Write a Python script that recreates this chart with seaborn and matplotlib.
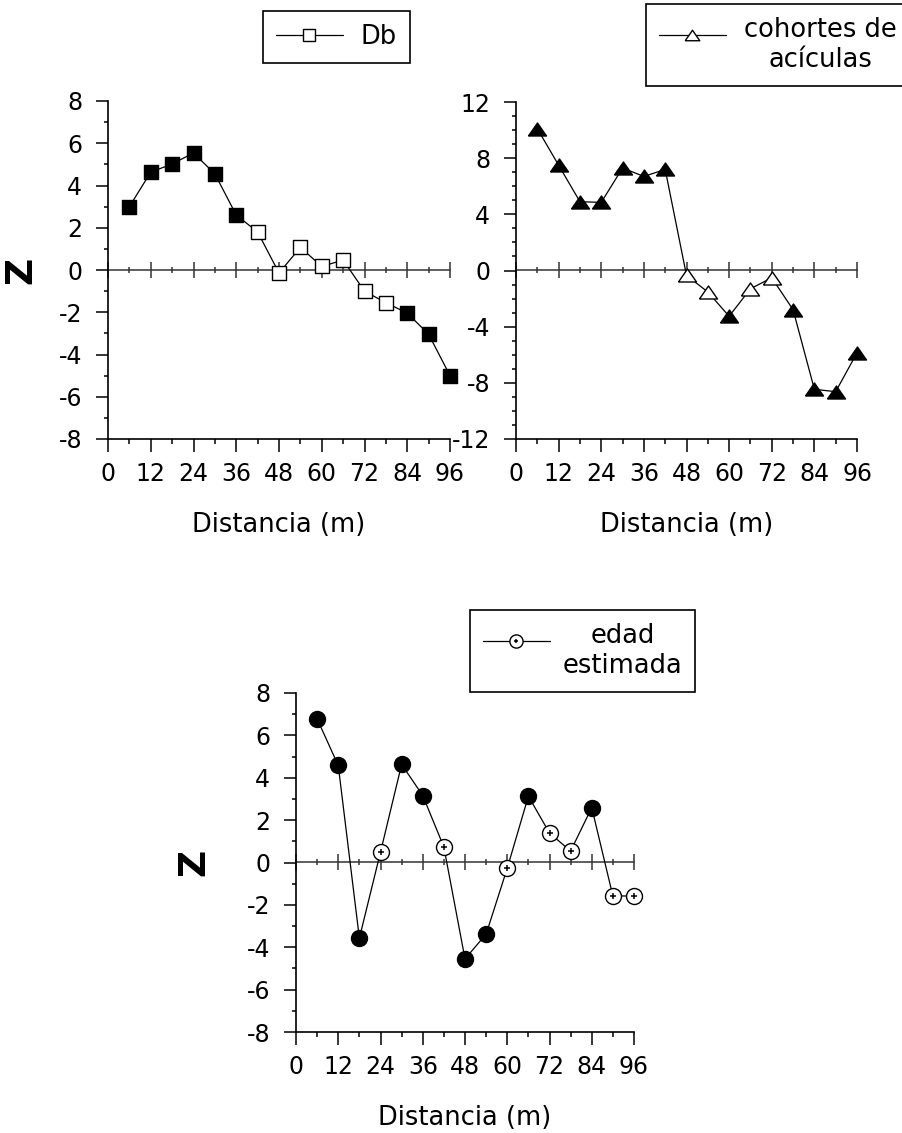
import numpy as np
import pandas as pd
import matplotlib
matplotlib.use("Agg")
import matplotlib.pyplot as plt
from matplotlib.lines import Line2D
from matplotlib.legend_handler import HandlerLine2D
from matplotlib.ticker import MultipleLocator
import seaborn as sns

# Distance classes (m) and standardized Z values per variable
distancia = [6, 12, 18, 24, 30, 36, 42, 48, 54, 60, 66, 72, 78, 84, 90, 96]
db_z = [3.0, 4.63, 5.02, 5.54, 4.55, 2.6, 1.8, -0.14, 1.07, 0.17, 0.47,
        -1.0, -1.55, -2.04, -3.04, -5.0]
cohortes_z = [10.1, 7.5, 4.9, 4.85, 7.3, 6.7, 7.2, -0.35, -1.53, -3.26,
              -1.3, -0.52, -2.79, -8.46, -8.63, -5.86]
edad_z = [6.78, 4.58, -3.57, 0.49, 4.63, 3.16, 0.73, -4.55, -3.38, -0.27,
          3.13, 1.39, 0.54, 2.59, -1.58, -1.58]

x_ticks = [0, 12, 24, 36, 48, 60, 72, 84, 96]
z_crit = 1.96

sns.set_theme(style="white")
plt.rcParams["font.family"] = ["DejaVu Sans"]
plt.rcParams["axes.unicode_minus"] = False
plt.rcParams.update({"text.color": "black", "axes.labelcolor": "black",
                     "xtick.color": "black", "ytick.color": "black"})

W, H = 902, 1133
fig = plt.figure(figsize=(W / 100, H / 100), dpi=100)


def px_box(l, t, r, b):
    return [l / W, 1 - b / H, (r - l) / W, (b - t) / H]


tri = [(-1.0, -0.72), (1.0, -0.72), (0.0, 0.72), (-1.0, -0.72)]


def panel(ax, z, marker, ms, ylim, ystep, open_dot=False):
    df = pd.DataFrame({"Distancia": distancia, "Z": z})
    df["sig"] = df["Z"].abs() >= z_crit
    sns.lineplot(data=df, x="Distancia", y="Z", color="black", lw=0.9,
                 ax=ax, clip_on=False, zorder=3, estimator=None)
    sns.scatterplot(data=df[df["sig"]], x="Distancia", y="Z", marker=marker,
                    s=ms ** 2, color="black", edgecolor="black", linewidth=1,
                    ax=ax, clip_on=False, zorder=4)
    sns.scatterplot(data=df[~df["sig"]], x="Distancia", y="Z", marker=marker,
                    s=ms ** 2, color="white", edgecolor="black", linewidth=1,
                    ax=ax, clip_on=False, zorder=4)
    if open_dot:
        sns.scatterplot(data=df[~df["sig"]], x="Distancia", y="Z", marker="+",
                        s=14, color="black", linewidth=1.1, ax=ax,
                        clip_on=False, zorder=5)

    ax.set_xlim(0, 96)
    ax.set_ylim(*ylim)
    ax.set_xticks(x_ticks)
    ax.xaxis.set_minor_locator(MultipleLocator(6))
    ax.yaxis.set_major_locator(MultipleLocator(ystep))
    ax.yaxis.set_minor_locator(MultipleLocator(1))
    for s in ("top", "right"):
        ax.spines[s].set_visible(False)
    for s in ("left", "bottom"):
        ax.spines[s].set_color("black")
        ax.spines[s].set_linewidth(1.2)
    ax.tick_params(axis="both", which="both", direction="out", color="black",
                   labelcolor="black", width=1.1, labelsize=17,
                   left=True, bottom=True)
    ax.tick_params(axis="x", which="major", length=9.5, pad=7)
    ax.tick_params(axis="x", which="minor", length=3.5)
    ax.tick_params(axis="y", which="major", length=8.5, pad=10)
    ax.tick_params(axis="y", which="minor", length=3)
    ax.set_xlabel("Distancia (m)", fontsize=18.5, va="center", color="black")
    ax.set_ylabel("")
    h = ax.get_position().height * H
    ax.xaxis.set_label_coords(0.5, -86 / h)

    # zero reference line with crossing ticks
    frac = (0 - ylim[0]) / (ylim[1] - ylim[0])
    sec = ax.secondary_xaxis(frac)
    sec.set_xticks(x_ticks)
    sec.xaxis.set_minor_locator(MultipleLocator(6))
    sec.tick_params(which="both", direction="inout", color="#333333",
                    width=1.1, labeltop=False, labelbottom=False)
    sec.tick_params(which="major", length=11)
    sec.tick_params(which="minor", length=4)
    for s in sec.spines.values():
        s.set_color("#333333")
        s.set_linewidth(1.1)


ax1 = fig.add_axes(px_box(108, 101, 450, 439))
panel(ax1, db_z, "s", 10.5, (-8, 8), 2)
ax1.set_ylabel("Z", fontsize=27, fontweight="bold", va="center", ha="center")
ax1.yaxis.set_label_coords(-86 / 338, 0.5)

ax2 = fig.add_axes(px_box(516, 102, 857, 439))
panel(ax2, cohortes_z, tri, 13, (-12, 12), 4)

ax3 = fig.add_axes(px_box(296, 693, 634, 1032))
panel(ax3, edad_z, "o", 11.5, (-8, 8), 2, open_dot=True)
ax3.set_ylabel("Z", fontsize=27, fontweight="bold", va="center", ha="center")
ax3.yaxis.set_label_coords(-102 / 338, 0.5)


class RaisedLineHandler(HandlerLine2D):
    """Line handle drawn level with the first line of a two-line label."""

    def __init__(self, dy=0.0, **kw):
        super().__init__(**kw)
        self.dy = dy

    def create_artists(self, legend, orig_handle, xdescent, ydescent,
                       width, height, fontsize, trans):
        arts = super().create_artists(legend, orig_handle, xdescent, ydescent,
                                      width, height, fontsize, trans)
        for a in arts:
            a.set_ydata(np.asarray(a.get_ydata(), dtype=float) + self.dy)
        return arts


def legend_box(handle, label, l, t, hl, htp, dy=0.0):
    leg = fig.legend([handle], [label], loc="upper left",
                     bbox_to_anchor=(l / W, 1 - t / H), borderaxespad=0,
                     frameon=True, fancybox=False, framealpha=1,
                     edgecolor="black", fontsize=18.5, borderpad=0.5,
                     handlelength=hl, handletextpad=htp,
                     handler_map={Line2D: RaisedLineHandler(dy=dy)})
    leg.get_frame().set_linewidth(1.2)
    for txt in leg.get_texts():
        txt.set_multialignment("center")
        txt.set_color("black")
    return leg


h_db = Line2D([], [], color="black", lw=0.9, marker="s", ms=8,
              mfc="white", mec="black", mew=1)
h_co = Line2D([], [], color="black", lw=0.9, marker=tri, ms=10.5,
              mfc="white", mec="black", mew=1)
h_ed = (Line2D([], [], color="black", lw=0.9, marker="o", ms=9.5,
               mfc="white", mec="black", mew=1),
        Line2D([], [], color="black", lw=0, marker="+", ms=3, mew=1.1))

legend_box(h_db, "Db", 263, 11, 2.6, 0.7)
legend_box(h_co, "cohortes de\nacículas", 646, 4, 2.6, 0.7, dy=8)
legend_box(h_ed, "edad\nestimada", 470, 610, 2.6, 0.5, dy=8)

fig.savefig("out.png", dpi=100, facecolor="white")
